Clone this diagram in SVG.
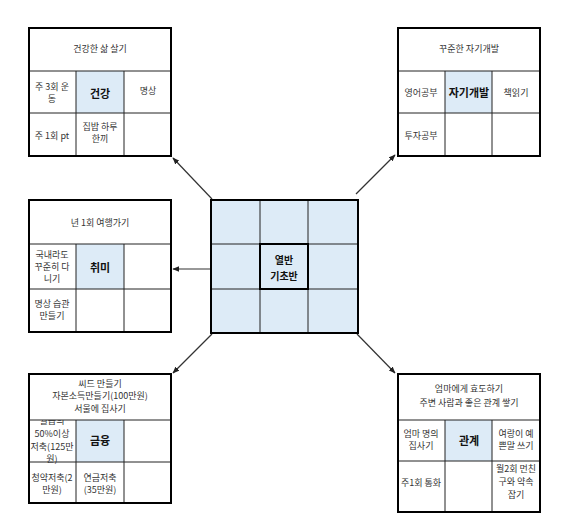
<svg xmlns="http://www.w3.org/2000/svg" width="563" height="526" viewBox="0 0 563 526">
<defs>
<marker id="ah" viewBox="0 0 10 10" refX="9" refY="5" markerWidth="7" markerHeight="7" orient="auto-start-reverse" markerUnits="userSpaceOnUse">
<path d="M0,1 L10,5 L0,9 z" fill="#222"/>
</marker>
<clipPath id="c1"><rect x="29" y="420" width="47" height="42"/></clipPath>
<style>
.bg{fill:#fff}
.hl{fill:#DDEBF7}
.in{stroke:#222;stroke-width:1;fill:none}
.out{stroke:#000;stroke-width:2;fill:none}
.t{font-family:"Noto Sans CJK KR","Noto Sans",sans-serif;font-size:9px;fill:#333;text-anchor:middle;dominant-baseline:central}
.b{font-family:"Noto Sans CJK KR","Noto Sans",sans-serif;font-size:11px;font-weight:bold;fill:#111;text-anchor:middle;dominant-baseline:central}
.cn{stroke:#333;stroke-width:1.2;fill:none;marker-end:url(#ah)}
</style>
</defs>
<rect width="563" height="526" fill="#fff"/>

<g id="connectors">
<line class="cn" x1="212" y1="199" x2="173" y2="158"/>
<line class="cn" x1="356" y1="194" x2="395" y2="155"/>
<line class="cn" x1="210" y1="269" x2="173" y2="269"/>
<line class="cn" x1="357" y1="334" x2="395" y2="373"/>
<line class="cn" x1="212" y1="334" x2="173" y2="373"/>
</g>

<g id="health">
<rect class="bg" x="29" y="28" width="142" height="128"/>
<rect class="hl" x="76" y="71" width="48" height="42"/>
<path class="in" d="M29 71H171M29 113H171M76 71V156M124 71V156"/>
<rect class="out" x="29" y="28" width="142" height="128"/>
<text class="t" x="100" y="48">건강한 삶 살기</text>
<text class="t" x="52" y="86">주 3회 운</text>
<text class="t" x="52" y="98">동</text>
<text class="b" x="100" y="93">건강</text>
<text class="t" x="148" y="90">명상</text>
<text class="t" x="52" y="135">주 1회 pt</text>
<text class="t" x="100" y="126">집밥 하루</text>
<text class="t" x="100" y="138">한끼</text>
</g>

<g id="selfdev">
<rect class="bg" x="398" y="28" width="142" height="128"/>
<rect class="hl" x="445" y="71" width="47" height="42"/>
<path class="in" d="M398 71H540M398 113H540M445 71V156M492 71V156"/>
<rect class="out" x="398" y="28" width="142" height="128"/>
<text class="t" x="469" y="48">꾸준한 자기개발</text>
<text class="t" x="421" y="92">영어공부</text>
<text class="b" x="469" y="92">자기개발</text>
<text class="t" x="516" y="92">책읽기</text>
<text class="t" x="421" y="135">투자공부</text>
</g>

<g id="hobby">
<rect class="bg" x="29" y="200" width="142" height="132"/>
<rect class="hl" x="76" y="244" width="48" height="45"/>
<path class="in" d="M29 244H171M29 289H171M76 244V332M124 244V332"/>
<rect class="out" x="29" y="200" width="142" height="132"/>
<text class="t" x="100" y="222">년 1회 여행가기</text>
<text class="t" x="52" y="254">국내라도</text>
<text class="t" x="52" y="266">꾸준히 다</text>
<text class="t" x="52" y="278">니기</text>
<text class="b" x="100" y="267">취미</text>
<text class="t" x="52" y="303">명상 습관</text>
<text class="t" x="52" y="315">만들기</text>
</g>

<g id="center">
<rect class="hl" x="211" y="200" width="147" height="133"/>
<path class="in" d="M211 244H358M211 289H358M260 200V333M308 200V333"/>
<rect class="out" x="211" y="200" width="147" height="133"/>
<rect class="out" x="260" y="244" width="48" height="45"/>
<text class="b" x="284" y="259" style="font-size:10px">열반</text>
<text class="b" x="284" y="275" style="font-size:10px">기초반</text>
</g>

<g id="finance">
<rect class="bg" x="29" y="374" width="142" height="129"/>
<rect class="hl" x="76" y="420" width="48" height="42"/>
<g clip-path="url(#c1)">
<text class="t" x="52" y="420">월급의</text>
</g>
<path class="in" d="M29 420H171M29 462H171M76 420V503M124 420V503"/>
<rect class="out" x="29" y="374" width="142" height="129"/>
<text class="t" x="100" y="383">씨드 만들기</text>
<text class="t" x="100" y="395">자본소득만들기(100만원)</text>
<text class="t" x="100" y="408">서울에 집사기</text>
<text class="t" x="52" y="433">50%이상</text>
<text class="t" x="52" y="446">저축(125만</text>
<text class="t" x="52" y="458">원)</text>
<text class="b" x="100" y="440">금융</text>
<text class="t" x="52" y="477">청약저축(2</text>
<text class="t" x="52" y="489">만원)</text>
<text class="t" x="100" y="477">연금저축</text>
<text class="t" x="100" y="489">(35만원)</text>
</g>

<g id="relation">
<rect class="bg" x="398" y="374" width="142" height="138"/>
<rect class="hl" x="445" y="420" width="47" height="41"/>
<path class="in" d="M398 420H540M398 461H540M445 420V512M492 420V512"/>
<rect class="out" x="398" y="374" width="142" height="138"/>
<text class="t" x="469" y="388">엄마에게 효도하기</text>
<text class="t" x="469" y="402">주변 사람과 좋은 관계 쌓기</text>
<text class="t" x="421" y="433">엄마 명의</text>
<text class="t" x="421" y="445">집사기</text>
<text class="b" x="469" y="440">관계</text>
<text class="t" x="516" y="433">여랑이 예</text>
<text class="t" x="516" y="445">쁜말 쓰기</text>
<text class="t" x="421" y="482">주1회 통화</text>
<text class="t" x="516" y="468">월2회 먼친</text>
<text class="t" x="516" y="481">구와 약속</text>
<text class="t" x="516" y="494">잡기</text>
</g>
</svg>
